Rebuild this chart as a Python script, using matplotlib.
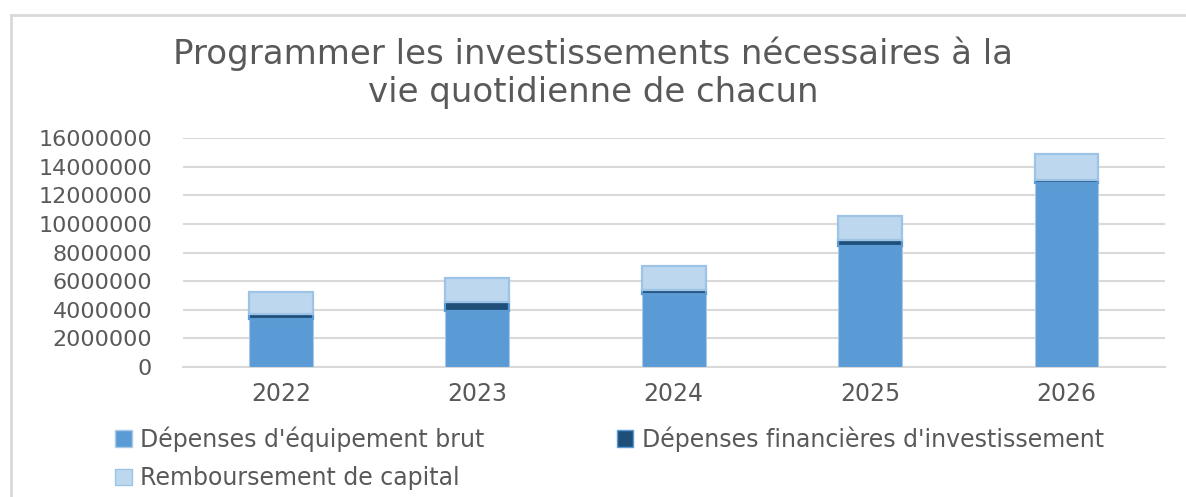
import matplotlib.pyplot as plt
from matplotlib.patches import Patch
from matplotlib.lines import Line2D
import numpy as np

# Données
annees = ["2022", "2023", "2024", "2025", "2026"]
equipement_brut = [3360000, 3920000, 5120000, 8430000, 12870000]
financieres_invest = [320000, 650000, 230000, 420000, 210000]
remboursement_capital = [1580000, 1650000, 1680000, 1730000, 1780000]

noms_series = ["Dépenses d'équipement brut",
               "Dépenses financières d'investissement",
               "Remboursement de capital"]

couleur_texte = "#595959"
couleur_grille = "#D9D9D9"

plt.rcParams['font.family'] = ['DejaVu Sans']

fig = plt.figure(figsize=(11.86, 4.97), dpi=100)
ax = fig.add_axes([0.154, 0.2616, 0.828, 0.4607])

x = np.arange(len(annees))
largeur = 0.325
eq = np.array(equipement_brut)
fi = np.array(financieres_invest)
rb = np.array(remboursement_capital)

ax.bar(x, eq, largeur, color="#5B9BD5", edgecolor="#A9C9E8", linewidth=0.8, zorder=3)
ax.bar(x, fi, largeur, bottom=eq, color="#1F4E79", edgecolor="#5B9BD5", linewidth=1.6, zorder=3)
ax.bar(x, rb, largeur, bottom=eq + fi, color="#BDD7EE", edgecolor="#9DC3E6", linewidth=1.6, zorder=3)

ax.set_xlim(-0.5, len(annees) - 0.5)
ax.set_ylim(0, 16000000)
ax.set_yticks(np.arange(0, 16000001, 2000000))
ax.set_yticklabels([str(v) for v in range(0, 16000001, 2000000)])
ax.set_xticks(x)
ax.set_xticklabels(annees)

ax.grid(axis='y', color=couleur_grille, linewidth=1.5, zorder=0)
for s in ['top', 'right', 'left']:
    ax.spines[s].set_visible(False)
ax.spines['bottom'].set_color(couleur_grille)
ax.spines['bottom'].set_linewidth(1.5)
ax.tick_params(axis='both', length=0, colors=couleur_texte)
ax.tick_params(axis='y', pad=22, labelsize=16)
ax.tick_params(axis='x', pad=11, labelsize=17)

fig.text(0.5, 0.927, "Programmer les investissements nécessaires à la\nvie quotidienne de chacun",
         ha='center', va='top', fontsize=24.5, color=couleur_texte, linespacing=1.2)

# cadre du graphique (haut et gauche)
fig.add_artist(Line2D([11 / 1186, 11 / 1186], [0, 1 - 15 / 497], color=couleur_grille, linewidth=2))
fig.add_artist(Line2D([11 / 1186, 1.01], [1 - 15 / 497, 1 - 15 / 497], color=couleur_grille, linewidth=2))

poignees = [Patch(facecolor="#5B9BD5", edgecolor="#A9C9E8"),
            Patch(facecolor="#BDD7EE", edgecolor="#9DC3E6"),
            Patch(facecolor="#1F4E79", edgecolor="#5B9BD5")]
etiquettes = [noms_series[0], noms_series[2], noms_series[1]]
fig.legend(poignees, etiquettes, ncol=2, loc='upper left',
           bbox_to_anchor=(106 / 1186, 1 - 417 / 497), frameon=False,
           fontsize=17, labelcolor=couleur_texte, handlelength=0.7, handleheight=0.7,
           handletextpad=0.35, columnspacing=5.6, labelspacing=0.6, borderaxespad=0)

fig.savefig("out.png", dpi=100, facecolor="white")
